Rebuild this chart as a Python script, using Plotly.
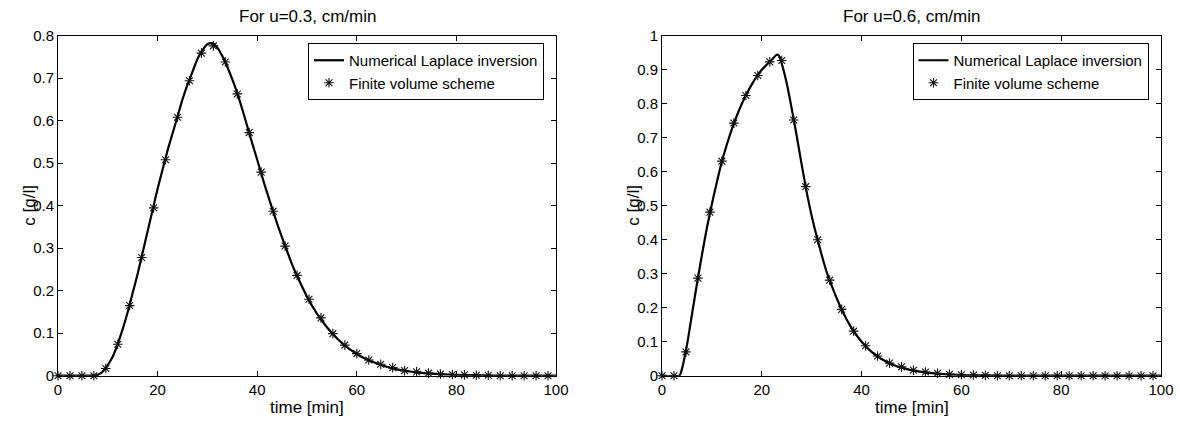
import plotly.graph_objects as go

# ---------------- data ----------------
# Finite volume scheme sample times (min)
fv_t = [round(2.4 * i, 1) for i in range(42)]

# Left panel (u = 0.3 cm/min)
fv_c1 = [0, 0, 0, 0, 0.017, 0.074, 0.165, 0.278, 0.395, 0.508,
         0.608, 0.694, 0.759, 0.776, 0.738, 0.663, 0.572, 0.479, 0.387, 0.305,
         0.236, 0.180, 0.136, 0.099, 0.072, 0.052, 0.037, 0.027, 0.019, 0.012,
         0.009, 0.006, 0.004, 0.003, 0.002, 0.001, 0.001, 0, 0, 0,
         0, 0]
lap_t1 = [0, 7, 7.5, 8, 9, 10, 11, 12, 13, 14, 15, 16, 17, 18, 19, 20, 21, 22, 23,
          24, 25, 26, 27, 28, 29, 30, 31, 32, 33, 34, 35, 36, 37, 38, 39, 40,
          41, 42, 43, 44, 45, 46, 47, 48, 50, 52, 54, 56, 58, 60, 62, 64, 66,
          68, 70, 72, 75, 80, 85, 90, 100]
lap_c1 = [0, 0, 0, 0.002, 0.01, 0.025, 0.045, 0.075, 0.11, 0.15, 0.195, 0.24,
          0.29, 0.34, 0.39, 0.44, 0.485, 0.53, 0.57, 0.61, 0.65, 0.685, 0.715,
          0.745, 0.766, 0.780, 0.782, 0.772, 0.752, 0.727, 0.697, 0.665, 0.627,
          0.587, 0.547, 0.508, 0.468, 0.430, 0.394, 0.358, 0.325, 0.293, 0.262,
          0.235, 0.186, 0.146, 0.114, 0.088, 0.067, 0.051, 0.038, 0.029, 0.021,
          0.015, 0.011, 0.008, 0.005, 0.002, 0.001, 0, 0]

# Right panel (u = 0.6 cm/min)
fv_c2 = [0, 0, 0.070, 0.287, 0.481, 0.631, 0.743, 0.824, 0.883, 0.923,
         0.927, 0.752, 0.556, 0.400, 0.281, 0.195, 0.131, 0.088, 0.058, 0.037,
         0.026, 0.016, 0.011, 0.007, 0.004, 0.003, 0.002, 0.001, 0, 0,
         0, 0, 0, 0, 0, 0, 0, 0, 0, 0,
         0, 0]
lap_t2 = [0, 3.5, 4, 5, 6, 7, 8, 9, 10, 11, 12, 13, 14, 15, 16, 17, 18, 19, 20,
          21, 22, 23, 23.5, 24, 25, 26, 27, 28, 29, 30, 31, 32, 33, 34, 35, 36,
          38, 40, 42, 44, 46, 48, 50, 52, 55, 60, 65, 70, 100]
lap_c2 = [0, 0, 0.02, 0.09, 0.18, 0.27, 0.355, 0.435, 0.505, 0.57, 0.63, 0.68,
          0.725, 0.765, 0.8, 0.83, 0.857, 0.88, 0.9, 0.915, 0.929, 0.944, 0.94,
          0.918, 0.86, 0.785, 0.705, 0.62, 0.54, 0.47, 0.41, 0.355, 0.305,
          0.265, 0.228, 0.195, 0.14, 0.1, 0.07, 0.049, 0.034, 0.024, 0.016,
          0.011, 0.006, 0.002, 0.001, 0, 0]

titles = ["For u=0.3, cm/min", "For u=0.6, cm/min"]
x_label = "time [min]"
y_label = "c [g/l]"
x_ticks = [0, 20, 40, 60, 80, 100]
y_ticks1 = [0, 0.1, 0.2, 0.3, 0.4, 0.5, 0.6, 0.7, 0.8]
y_ticks2 = [0, 0.1, 0.2, 0.3, 0.4, 0.5, 0.6, 0.7, 0.8, 0.9, 1]
series_names = ["Numerical Laplace inversion", "Finite volume scheme"]

# ---------------- layout geometry ----------------
W, H = 1180, 422
FONT = "Liberation Sans, Arial, Helvetica, sans-serif"
left_px = [(58, 556), (662, 1161)]
top_px, bot_px = 35.7, 375.7
ydom = [1 - bot_px / H, 1 - top_px / H]

fig = go.Figure()

panels = [
    (lap_t1, lap_c1, fv_c1, y_ticks1, 0.8, "x", "y"),
    (lap_t2, lap_c2, fv_c2, y_ticks2, 1.0, "x2", "y2"),
]

for k, (lt, lc, fc, yt, ymax, xa, ya) in enumerate(panels):
    fig.add_trace(go.Scatter(
        x=lt, y=lc, mode="lines", name=series_names[0],
        line=dict(color="black", width=2.2, shape="spline", smoothing=0.6),
        xaxis=xa, yaxis=ya, legend="legend" if k == 0 else "legend2",
        cliponaxis=False,
    ))
    fig.add_trace(go.Scatter(
        x=fv_t, y=fc, mode="markers", name=series_names[1],
        marker=dict(symbol="asterisk-open", size=8, color="#111111",
                    line=dict(color="#111111", width=1.1)),
        xaxis=xa, yaxis=ya, legend="legend" if k == 0 else "legend2",
        cliponaxis=False,
    ))

axis_common = dict(
    showline=True, linecolor="black", linewidth=1, mirror="ticks",
    ticks="inside", ticklen=5, tickwidth=1, tickcolor="black",
    showgrid=False, zeroline=False, automargin=False,
    tickfont=dict(family=FONT, size=15, color="black"),
)

for k in range(2):
    xd = [left_px[k][0] / W, left_px[k][1] / W]
    xname = "xaxis" if k == 0 else "xaxis2"
    yname = "yaxis" if k == 0 else "yaxis2"
    yt = panels[k][3]
    ymax = panels[k][4]
    fig.layout[xname] = dict(
        domain=xd, range=[0, 100], tickvals=x_ticks,
        ticktext=[str(v) for v in x_ticks],
        anchor="y" if k == 0 else "y2", **axis_common,
    )
    fig.layout[yname] = dict(
        domain=ydom, range=[0, ymax], tickvals=yt,
        ticktext=[("%g" % v) for v in yt],
        anchor="x" if k == 0 else "x2", **axis_common,
    )
    cx = (xd[0] + xd[1]) / 2
    fig.add_annotation(text=titles[k], x=cx, y=1 - 16.5 / H, xref="paper", yref="paper",
                       xanchor="center", yanchor="middle", showarrow=False,
                       font=dict(family=FONT, size=17, color="black"))
    fig.add_annotation(text=x_label, x=cx, y=1 - 407 / H, xref="paper", yref="paper",
                       xanchor="center", yanchor="middle", showarrow=False,
                       font=dict(family=FONT, size=17, color="black"))
    fig.add_annotation(text=y_label, x=(left_px[k][0] - 28) / W, y=(ydom[0] + ydom[1]) / 2,
                       xref="paper", yref="paper", textangle=-90,
                       xanchor="center", yanchor="middle", showarrow=False,
                       font=dict(family=FONT, size=17, color="black"))

legend_common = dict(
    bgcolor="white", bordercolor="black", borderwidth=1,
    font=dict(family=FONT, size=15, color="black"),
    xanchor="right", yanchor="top", tracegroupgap=0, itemwidth=30,
)
fig.update_layout(
    legend=dict(x=544 / W, y=1 - 43 / H, **legend_common),
    legend2=dict(x=1148.5 / W, y=1 - 43 / H, **legend_common),
)

fig.update_layout(
    width=W, height=H, margin=dict(l=0, r=0, t=0, b=0),
    paper_bgcolor="white", plot_bgcolor="white", showlegend=True,
)

fig.write_html("out.html")
